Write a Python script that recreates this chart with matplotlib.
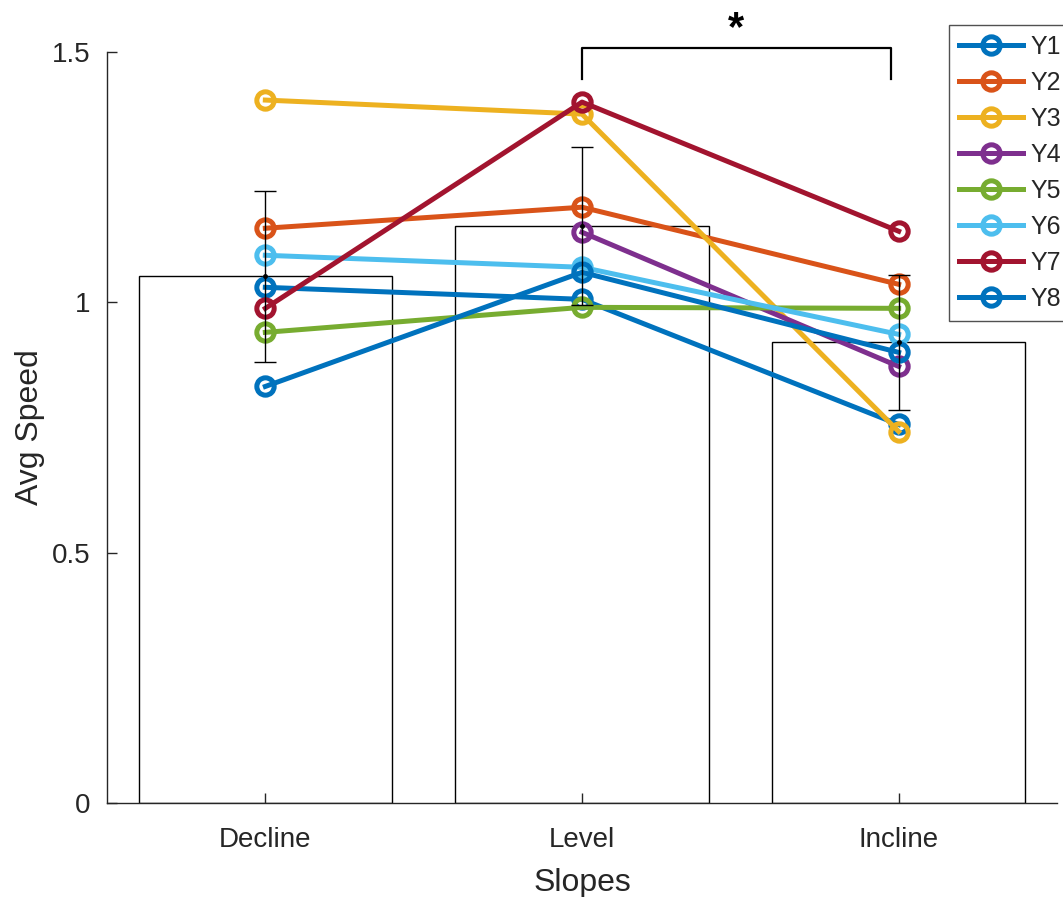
import matplotlib
matplotlib.use('Agg')
import matplotlib.pyplot as plt
import numpy as np

plt.rcParams['font.family'] = ['Liberation Sans', 'DejaVu Sans']

## Data
slopes = ['Decline', 'Level', 'Incline']
bar_means = [1.052, 1.152, 0.920]
bar_err = [0.171, 0.158, 0.135]

series_names = ['Y1', 'Y2', 'Y3', 'Y4', 'Y5', 'Y6', 'Y7', 'Y8']
y1 = [1.030, 1.006, 0.756]
y2 = [1.148, 1.190, 1.036]
y3 = [1.404, 1.376, 0.742]
y4 = [np.nan, 1.140, 0.872]
y5 = [0.940, 0.990, 0.988]
y6 = [1.094, 1.070, 0.936]
y7 = [0.988, 1.400, 1.142]
y8 = [0.832, 1.060, 0.900]
series = [y1, y2, y3, y4, y5, y6, y7, y8]

# MATLAB default colour order
colors = ['#0072BD', '#D95319', '#EDB120', '#7E2F8E',
          '#77AC30', '#4DBEEE', '#A2142F', '#0072BD']

axcol = '#262626'

##################################################################
fig = plt.figure(figsize=(10.63, 8.97), dpi=100)
ax = fig.add_axes([107/1063, 1-803/897, 950/1063, 751/897])

x = np.arange(1, len(slopes)+1)

# bars
ax.bar(x, bar_means, width=0.8, facecolor='white', edgecolor='black',
       linewidth=1.0, zorder=1)

# individual lines
for name, vals, c in zip(series_names, series, colors):
    ax.plot(x, vals, '-o', color=c, lw=3.6, ms=12.5, mew=3.6,
            mfc='none', mec=c, label=name, zorder=2)

# error bars
ax.errorbar(x, bar_means, yerr=bar_err, fmt='.', color='black', ms=5,
            elinewidth=1.0, capsize=8, capthick=1.0, zorder=3)

# significance bracket between Level and Incline
bx = [2.0, 2.0, 2.975, 2.975]
by = [1.446, 1.508, 1.508, 1.446]
ax.plot(bx, by, color='black', lw=1.6, clip_on=False,
        solid_joinstyle='round', zorder=4)
ax.text((bx[0]+bx[2])/2, 1.545, '*', ha='center', va='center',
        fontsize=30, fontweight='bold', clip_on=False)

# axes styling
ax.set_xlim(0.5, 3.5)
ax.set_ylim(0, 1.5)
ax.set_xticks(x)
ax.set_xticklabels(slopes)
ax.set_yticks([0, 0.5, 1, 1.5])
ax.set_yticklabels(['0', '0.5', '1', '1.5'])
ax.spines['top'].set_visible(False)
ax.spines['right'].set_visible(False)
for s in ['left', 'bottom']:
    ax.spines[s].set_color(axcol)
    ax.spines[s].set_linewidth(1.0)
ax.tick_params(direction='in', length=7, width=1.0, color=axcol,
               labelcolor=axcol, labelsize=20)
ax.tick_params(axis='x', pad=17)
ax.tick_params(axis='y', pad=12)

ax.set_xlabel('Slopes', fontsize=23, color=axcol)
ax.set_ylabel('Avg Speed', fontsize=23, color=axcol)
ax.xaxis.set_label_coords(0.5, -0.117)
ax.xaxis.label.set_va('baseline')
ax.yaxis.set_label_coords(-0.081, 0.5)
ax.yaxis.label.set_va('center')

leg = fig.legend(loc='upper left', bbox_to_anchor=(949/1063, 1-25/897),
                 fontsize=18, frameon=True, fancybox=False,
                 borderpad=0.4, labelspacing=0.48, handlelength=2.56,
                 handletextpad=0.3, borderaxespad=0)
leg.get_frame().set_edgecolor(axcol)
leg.get_frame().set_linewidth(1.0)
for t in leg.get_texts():
    t.set_color(axcol)

plt.savefig('out.png', dpi=100)
plt.close()
